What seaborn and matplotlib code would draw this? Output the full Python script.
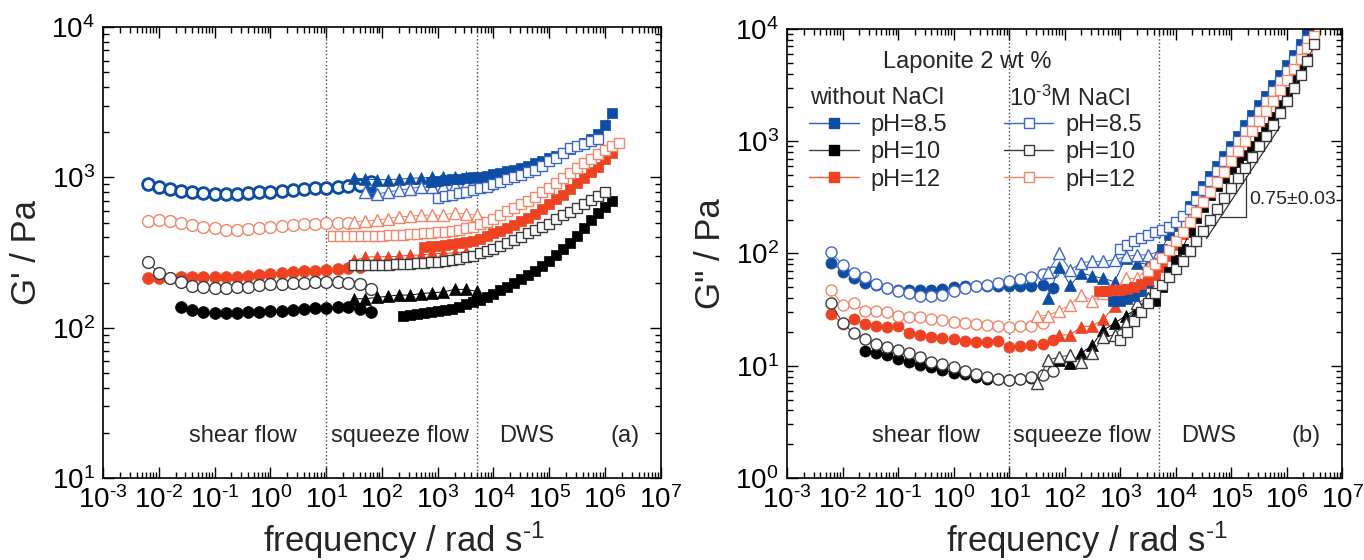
import numpy as np
import matplotlib
matplotlib.use("Agg")
import matplotlib.pyplot as plt
from matplotlib.lines import Line2D
from matplotlib.ticker import LogLocator, NullFormatter, FuncFormatter
import seaborn as sns

# frequency grids (rad/s)
shear_f = [0.0063, 0.01, 0.016, 0.025, 0.04, 0.063, 0.1, 0.16, 0.25, 0.4, 0.63,
           1, 1.6, 2.5, 4, 6.3, 10, 16, 25, 40, 63]
squeeze_f = [32, 50, 80, 126, 200, 316, 500, 794, 1260, 2000, 3160, 5000, 7940]
dws_f = [10, 13.3, 17.8, 23.7, 31.6, 42.2, 56.2, 75, 100, 133, 178, 237, 316, 422,
         562, 750, 1000, 1330, 1780, 2370, 3160, 4220, 5620, 7500, 1.0e4, 1.33e4,
         1.78e4, 2.37e4, 3.16e4, 4.22e4, 5.62e4, 7.5e4, 1.0e5, 1.33e5, 1.78e5,
         2.37e5, 3.16e5, 4.22e5, 5.62e5, 7.5e5, 1.0e6, 1.33e6, 1.78e6, 2.37e6, 3.16e6]

# ---- panel (a): G' ----
# shear flow (circles), values start at shear_f[start]
a_shear_b_fill = [905, 870, 835, 810, 795, 785, 778, 778, 782, 790, 798, 806, 815,
                  825, 835, 845, 855, 865, 875, 880, 800]
a_shear_b_open = [905, 870, 835, 810, 795, 785, 778, 778, 782, 790, 798, 806, 815,
                  825, 835, 845, 855, 865, 880, 895, 930]
a_shear_r_fill = [213, 213, 215, 218, 218, 218, 216, 216, 218, 220, 224, 227, 232,
                  235, 237, 239, 242, 245, 248, 252]
a_shear_r_open = [510, 520, 510, 500, 485, 470, 458, 450, 450, 455, 460, 468, 475,
                  482, 488, 492, 495, 495, 500]
a_shear_k_fill = [138, 131, 127, 126, 126, 126, 127, 128, 129, 130, 131, 133, 135,
                  136, 137, 138, 133, 128]
a_shear_k_open = [274, 232, 213, 201, 191, 187, 185, 185, 187, 188, 192, 195, 197,
                  199, 200, 202, 202, 202, 200, 195, 182]
# squeeze flow (triangles)
a_sq_b_fill = [985, 975, 968, 968, 975, 985, 995, 1000, 1005, 1010, 1010, 1005]
a_sq_b_open = [800, 775, 800, 822, 844, 866, 866, 875, 887, 901, 910, 910]
a_sq_r_fill = [281, 295, 297, 297, 299, 304, 304, 312, 312, 315, 320]
a_sq_r_open = [506, 515, 520, 533, 547, 552, 561, 561, 561, 583, 572, 561]
a_sq_k_fill = [156, 156, 159, 162, 165, 165, 169, 171, 173, 180, 180, 175]
# DWS (squares)
a_dws_b_fill = [940, 950, 960, 970, 980, 990, 1000, 1015, 1030, 1050, 1075, 1100,
                1130, 1160, 1195, 1240, 1285, 1340, 1400, 1465, 1540, 1620, 1700,
                1800, 1950, 2250, 2700]
a_dws_b_open = [735, 752, 770, 786, 803, 825, 850, 870, 900, 935, 975, 1010, 1045,
                1085, 1130, 1200, 1280, 1350, 1450, 1560, 1630, 1680, 1740, 1810]
a_dws_r_fill = [345, 348, 351, 355, 360, 366, 372, 380, 390, 405, 424, 443, 462, 485,
                510, 540, 575, 618, 665, 715, 768, 835, 915, 995, 1080, 1180, 1320, 1460]
a_dws_r_open = [405, 405, 405, 406, 406, 407, 408, 410, 412, 414, 416, 418, 421, 424,
                428, 432, 437, 442, 448, 458, 470, 488, 508, 533, 560, 594, 628, 662,
                698, 740, 795, 855, 920, 995, 1070, 1150, 1240, 1335, 1440, 1530,
                1620, 1690]
a_dws_k_fill = [120, 121, 123, 125, 127, 129, 131, 134, 138, 143, 148, 154, 161, 169,
                178, 188, 199, 211, 224, 239, 258, 280, 305, 334, 368, 410, 458, 520,
                580, 640, 700]
a_dws_k_open = [260, 260, 261, 261, 262, 263, 264, 265, 266, 268, 270, 272, 275, 279,
                283, 288, 295, 302, 312, 323, 336, 351, 366, 384, 404, 424, 445, 467,
                493, 527, 560, 590, 622, 664, 707, 755, 805]

# ---- panel (b): G'' ----
b_shear_b_fill = [83, 69, 61, 55, 52, 49, 47, 47, 47, 47, 48, 50, 51, 51, 51, 51, 51,
                  51, 51, 52, 49]
b_shear_b_open = [102, 79, 67, 62, 54, 49, 46, 44, 42, 42, 43, 46, 49, 51, 52, 55, 57,
                  59, 62, 66, 69]
b_shear_r_fill = [29, 23.5, 26, 23.5, 22.6, 22.3, 22.6, 19.7, 18.8, 18.1, 17.5, 17.2,
                  16.7, 16.4, 16.4, 16.7, 14.8, 15, 15.2, 15.5, 17]
b_shear_r_open = [47, 35, 36.5, 31, 31, 30, 28, 27, 27, 26, 25.5, 24.7, 23.8, 23.5,
                  23, 22.6, 22.3, 22.6, 22.6, 24]
b_shear_k_fill = [13.5, 12.9, 12.4, 11.4, 10.9, 10.1, 9.8, 9.2, 8.7, 8.4, 8.0, 7.6,
                  7.6, 7.4, 7.6, 7.7]
b_shear_k_open = [36, 24, 19.4, 17.2, 15.6, 14.6, 13.8, 12.9, 11.9, 10.9, 10.4, 9.8,
                  9.0, 8.4, 8.0, 7.6, 7.5, 7.6, 7.9, 8.3, 9]
b_sq_b_fill = [40, 76, 52, 67, 63, 60, 56, 91, 83, 80, 85]
b_sq_b_open = [68, 100, 71, 83, 85, 85, 88, 94, 97, 97, 104]
b_sq_r_fill = [18.8, 18.8, 22.3, 22.6, 26, 34, 46, 47, 58]
b_sq_r_open = [28, 28, 31, 35, 43, 38, 44, 47, 60, 60, 74, 90]
b_sq_k_fill = [11.2, 10.5, 12.9, 15.3, 20.8, 23.8, 28, 32, 40]
b_sq_k_open = [7.0, 11.2, 12, 12.4, 10.9, 12.9, 18.2, 18.8, 23.8, 36, 40]
b_dws_b_fill = [46, 38, 38, 39, 42, 46, 55, 80, 110, 145, 175, 215, 265, 325, 400,
                490, 600, 740, 910, 1120, 1380, 1700, 2080, 2550, 3150, 3850, 4750,
                5900, 7300, 9300]
b_dws_b_open = [110, 120, 130, 138, 146, 154, 162, 172, 190, 215, 250, 300, 365, 445,
                545, 670, 820, 1000, 1230, 1500, 1850, 2280, 2800, 3450, 4250, 5250,
                6500, 8000]
b_dws_r_fill = [46, 46, 47, 47, 48, 50, 54, 58, 64, 75, 95, 120, 150, 190, 240, 300,
                370, 460, 570, 700, 860, 1060, 1300, 1600, 1980, 2450, 3000, 3700,
                4600, 5800, 7400]
b_dws_r_open = [70, 80, 92, 108, 128, 155, 190, 235, 290, 355, 435, 535, 660, 810,
                1000, 1230, 1510, 1860, 2300, 2850, 3500, 4350, 5400, 6800, 8600]
b_dws_k_fill = [38, 50, 68, 88, 110, 155, 205, 260, 335, 400, 470, 560, 650, 760, 900,
                1080, 1300, 1650, 2100, 2750, 3500, 4500, 6200]
b_dws_k_open = [17, 20, 25, 30, 36, 44, 52, 62, 72, 85, 105, 128, 160, 200, 250, 310,
                380, 470, 580, 720, 900, 1120, 1400, 1800, 2300, 3000, 3900, 5200, 7300]

region_labels = ["shear flow", "squeeze flow", "DWS"]
region_bounds = [10, 5000]
legend_labels = ["pH=8.5", "pH=10", "pH=12"]
slope_line_f = [3.6e4, 7.6e5]
slope_line_g = [136, 1350]
slope_tri_f = [6.3e4, 1.86e5, 1.86e5]
slope_tri_g = [213, 213, 490]

BLUE, BLUE_O = "#0D4DA3", "#3D66C6"
RED, RED_O = "#EE4222", "#F2866A"
BLACK, BLACK_O = "#000000", "#3C3C3C"

sns.set_theme(style="ticks")
plt.rcParams["font.family"] = ["Liberation Sans", "DejaVu Sans"]
plt.rcParams["mathtext.fontset"] = "custom"
plt.rcParams["mathtext.rm"] = "Liberation Sans"
plt.rcParams["mathtext.it"] = "Liberation Sans:italic"
plt.rcParams["mathtext.default"] = "regular"


def decade(v, pos):
    return "10$^{\\text{%d}}$" % int(round(np.log10(v)))


def series(ax, grid, start, vals, marker, color, filled, ms, mew=1.0):
    i0 = grid.index(start)
    x = grid[i0:i0 + len(vals)]
    sns.lineplot(x=x, y=vals, ax=ax, estimator=None, sort=False, color=color,
                 lw=0.7, marker=marker, markersize=ms,
                 markerfacecolor=color if filled else "white",
                 markeredgecolor=color, markeredgewidth=0.5 if filled else mew)


def style_axes(ax, ymin, ylabel, tag):
    ax.set_xscale("log")
    ax.set_yscale("log")
    ax.set_xlim(1e-3, 1e7)
    ax.set_ylim(ymin, 1e4)
    for axis in (ax.xaxis, ax.yaxis):
        axis.set_major_locator(LogLocator(base=10, numticks=15))
        axis.set_minor_locator(LogLocator(base=10, subs=np.arange(2, 10), numticks=15))
        axis.set_major_formatter(FuncFormatter(decade))
        axis.set_minor_formatter(NullFormatter())
    ax.tick_params(which="both", direction="in", top=True, right=True,
                   labelsize=20, width=1.0, color="black", labelcolor="black")
    ax.tick_params(which="major", length=8, pad=6)
    ax.tick_params(which="minor", length=4)
    for s in ax.spines.values():
        s.set_linewidth(1.2)
        s.set_color("black")
    ax.set_xlabel("frequency / rad s$^{\\text{-1}}$", fontsize=25)
    ax.xaxis.set_label_coords(0.54, -0.092)
    ax.set_ylabel(ylabel, fontsize=25, labelpad=6)
    for b in region_bounds:
        ax.axvline(b, color="#444444", ls=":", lw=1.0, zorder=1)
    for lab, xf in zip(region_labels + [tag], [0.25, 0.532, 0.76, 0.935]):
        ax.text(xf, 0.093, lab, transform=ax.transAxes, ha="center", va="center",
                fontsize=17)


fig = plt.figure(figsize=(13.64, 5.6), dpi=100)
ax1 = fig.add_axes([0.0755, 0.1464, 0.409, 0.805])
ax2 = fig.add_axes([0.577, 0.1464, 0.407, 0.802])
for ax in (ax1, ax2):
    ax.set_xscale("log")
    ax.set_yscale("log")

# panel (a)
series(ax1, shear_f, 0.0063, a_shear_b_fill, "o", BLUE, True, 8.5)
series(ax1, shear_f, 0.0063, a_shear_b_open, "o", BLUE, False, 8.5, mew=2.0)
series(ax1, shear_f, 0.0063, a_shear_r_fill, "o", RED, True, 8.5)
series(ax1, shear_f, 0.0063, a_shear_r_open, "o", RED_O, False, 8.5)
series(ax1, shear_f, 0.025, a_shear_k_fill, "o", BLACK, True, 8.5)
series(ax1, shear_f, 0.0063, a_shear_k_open, "o", BLACK_O, False, 8.5)
series(ax1, squeeze_f, 32, a_sq_b_fill, "^", BLUE, True, 9)
series(ax1, squeeze_f, 50, a_sq_b_open, "^", BLUE_O, False, 9)
series(ax1, squeeze_f, 32, a_sq_r_fill, "^", RED, True, 9)
series(ax1, squeeze_f, 32, a_sq_r_open, "^", RED_O, False, 9)
series(ax1, squeeze_f, 32, a_sq_k_fill, "^", BLACK, True, 9)
series(ax1, dws_f, 750, a_dws_b_fill, "s", BLUE, True, 6.5)
series(ax1, dws_f, 1000, a_dws_b_open, "s", BLUE_O, False, 6.5)
series(ax1, dws_f, 562, a_dws_r_fill, "s", RED, True, 6.5)
series(ax1, dws_f, 13.3, a_dws_r_open, "s", RED_O, False, 6.5)
series(ax1, dws_f, 237, a_dws_k_fill, "s", BLACK, True, 6.5)
series(ax1, dws_f, 31.6, a_dws_k_open, "s", BLACK_O, False, 6.5)
style_axes(ax1, 10, "G' / Pa", "(a)")

# panel (b)
series(ax2, shear_f, 0.0063, b_shear_b_fill, "o", BLUE, True, 8)
series(ax2, shear_f, 0.0063, b_shear_b_open, "o", BLUE_O, False, 8)
series(ax2, shear_f, 0.0063, b_shear_r_fill, "o", RED, True, 8)
series(ax2, shear_f, 0.0063, b_shear_r_open, "o", RED_O, False, 8)
series(ax2, shear_f, 0.025, b_shear_k_fill, "o", BLACK, True, 8)
series(ax2, shear_f, 0.0063, b_shear_k_open, "o", BLACK_O, False, 8)
series(ax2, squeeze_f, 50, b_sq_b_fill, "^", BLUE, True, 9)
series(ax2, squeeze_f, 50, b_sq_b_open, "^", BLUE_O, False, 9)
series(ax2, squeeze_f, 80, b_sq_r_fill, "^", RED, True, 9)
series(ax2, squeeze_f, 32, b_sq_r_open, "^", RED_O, False, 9)
series(ax2, squeeze_f, 80, b_sq_k_fill, "^", BLACK, True, 9)
series(ax2, squeeze_f, 32, b_sq_k_open, "^", BLACK_O, False, 9)
series(ax2, dws_f, 562, b_dws_b_fill, "s", BLUE, True, 7)
series(ax2, dws_f, 422, b_dws_r_fill, "s", RED, True, 7)
series(ax2, dws_f, 4220, b_dws_k_fill, "s", BLACK, True, 7)
series(ax2, dws_f, 1000, b_dws_b_open, "s", BLUE_O, False, 7)
series(ax2, dws_f, 3160, b_dws_r_open, "s", RED_O, False, 7)
series(ax2, dws_f, 1000, b_dws_k_open, "s", BLACK_O, False, 7)
style_axes(ax2, 1, 'G" / Pa', "(b)")

# slope triangle
ax2.plot(slope_line_f, slope_line_g, color="#333333", lw=0.9)
ax2.plot(slope_tri_f, slope_tri_g, color="#333333", lw=0.9)
ax2.text(2.1e5, 300, "0.75\u00b10.03", fontsize=14, ha="left", va="center")

# legend
line_cols = ["#2F5FBF", "#444444", "#F0603F"]
fill_cols = [BLUE, BLACK, RED]
handles = []
for lc, fc in zip(line_cols, fill_cols):
    handles.append(Line2D([], [], color=lc, lw=1.0, marker="s", ms=7, mfc=fc, mec=fc))
for lc in [BLUE_O, BLACK_O, RED_O]:
    handles.append(Line2D([], [], color=lc, lw=1.0, marker="s", ms=7, mfc="white",
                          mec=lc, mew=1.0))
ax2.legend(handles, legend_labels + legend_labels, ncol=2, loc="upper left",
           bbox_to_anchor=(0.04, 0.81), frameon=False, fontsize=17,
           handlelength=2.1, handletextpad=0.5, columnspacing=2.4,
           labelspacing=0.22, borderpad=0, borderaxespad=0)
ax2.text(0.173, 0.926, "Laponite 2 wt %", transform=ax2.transAxes, fontsize=17,
         ha="left", va="center")
ax2.text(0.041, 0.846, "without NaCl", transform=ax2.transAxes, fontsize=17,
         ha="left", va="center")
ax2.text(0.40, 0.846, "10$^{\\text{-3}}$M NaCl", transform=ax2.transAxes, fontsize=17,
         ha="left", va="center")

fig.savefig("out.png", dpi=100)
